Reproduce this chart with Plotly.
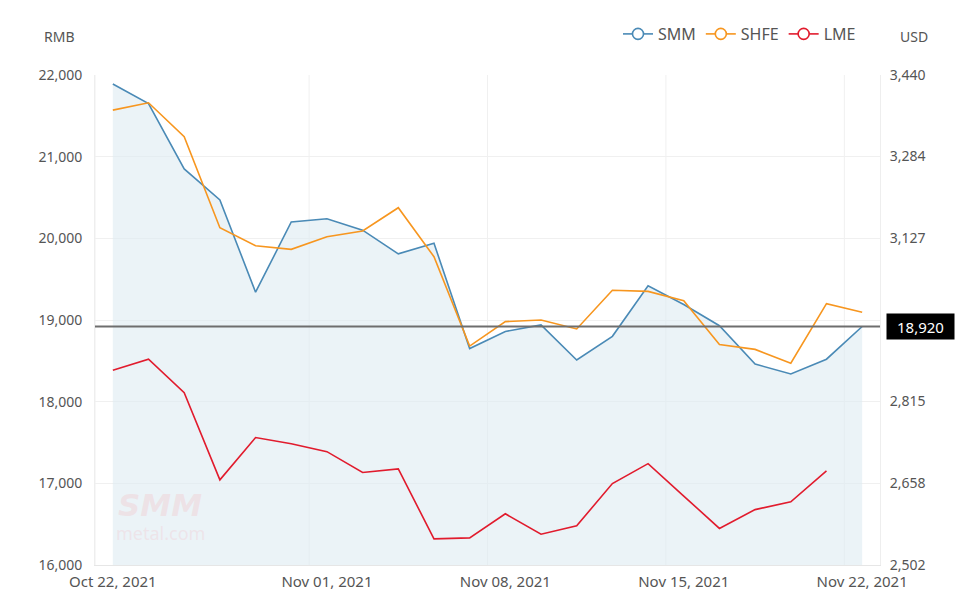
import plotly.graph_objects as go

dates = ["Oct 22, 2021", "Oct 25, 2021", "Oct 26, 2021", "Oct 27, 2021", "Oct 28, 2021",
         "Oct 29, 2021", "Nov 01, 2021", "Nov 02, 2021", "Nov 03, 2021", "Nov 04, 2021",
         "Nov 05, 2021", "Nov 08, 2021", "Nov 09, 2021", "Nov 10, 2021", "Nov 11, 2021",
         "Nov 12, 2021", "Nov 15, 2021", "Nov 16, 2021", "Nov 17, 2021", "Nov 18, 2021",
         "Nov 19, 2021", "Nov 22, 2021"]

smm = [21890, 21650, 20850, 20470, 19340, 20200, 20240, 20100, 19810, 19940,
       18650, 18860, 18940, 18510, 18800, 19420, 19190, 18930, 18460, 18340,
       18520, 18920]
shfe = [21570, 21660, 21245, 20130, 19910, 19865, 20020, 20090, 20375, 19775,
        18680, 18980, 19000, 18890, 19365, 19350, 19235, 18700, 18640, 18470,
        19200, 19095]
lme = [2875, 2896, 2832, 2665, 2746, 2734, 2719, 2679, 2686, 2552,
       2554, 2600, 2561, 2577, 2658, 2696, 2634, 2572, 2608, 2623,
       2682, None]

rmb_ticks = [16000, 17000, 18000, 19000, 20000, 21000, 22000]
usd_ticks = [2502, 2658, 2815, 2971, 3127, 3284, 3440]
x_label_idx = [0, 6, 11, 16, 21]
x_grid_pos = [-0.5, 5.5, 10.5, 15.5, 20.5]

C_SMM = "#4a8ab6"
C_SHFE = "#f7961f"
C_LME = "#e11b2d"
TXT = "#555555"
GRID = "#f0f0f0"
FONT = "Noto Sans"

L, R, T, B = 95, 97, 75, 31
PW, PH = 977 - L - R, 596 - T - B


def px(xp):
    return (xp - L) / PW


def py(yp):
    return 1 + (T - yp) / PH


x = list(range(len(dates)))

fig = go.Figure()

fig.add_trace(go.Scatter(x=x, y=smm, mode="lines", line=dict(color=C_SMM, width=1.6),
                         fill="tozeroy", fillcolor="rgba(222,235,241,0.6)",
                         showlegend=False, hoverinfo="skip"))
fig.add_trace(go.Scatter(x=x, y=shfe, mode="lines", line=dict(color=C_SHFE, width=1.6),
                         showlegend=False, hoverinfo="skip"))
fig.add_trace(go.Scatter(x=x, y=lme, mode="lines", line=dict(color=C_LME, width=1.6),
                         yaxis="y2", showlegend=False, hoverinfo="skip"))

for name, col in [("SMM", C_SMM), ("SHFE", C_SHFE), ("LME", C_LME)]:
    fig.add_trace(go.Scatter(x=[None], y=[None], mode="lines+markers", name=name,
                             line=dict(color=col, width=1.6),
                             marker=dict(symbol="circle", size=11, color="white",
                                         line=dict(color=col, width=1.6))))

shapes = []
for gx in x_grid_pos:
    shapes.append(dict(type="line", xref="x", yref="paper", x0=gx, x1=gx, y0=0, y1=1,
                       line=dict(color=GRID, width=1), layer="below"))
shapes.append(dict(type="line", xref="paper", yref="y", x0=0, x1=1, y0=smm[-1], y1=smm[-1],
                   line=dict(color="#6e6e6e", width=2)))

annotations = [
    dict(x=1, xref="paper", y=smm[-1], yref="y", xanchor="left", yanchor="middle", xshift=6,
         text=f"{smm[-1]:,}", showarrow=False, bgcolor="black", borderpad=3,
         width=61, height=19, align="center",
         font=dict(color="white", size=15, family=FONT)),
    dict(x=px(59), xref="paper", y=py(37), yref="paper", xanchor="center", yanchor="middle",
         text="RMB", showarrow=False, font=dict(color=TXT, size=14, family=FONT)),
    dict(x=px(914), xref="paper", y=py(37), yref="paper", xanchor="center", yanchor="middle",
         text="USD", showarrow=False, font=dict(color=TXT, size=14, family=FONT)),
    dict(text="<b><i>SMM</i></b>", x=px(160), y=py(505), xref="paper", yref="paper",
         xanchor="center", yanchor="middle", showarrow=False,
         font=dict(color="rgba(240,205,210,0.45)", size=31, family="DejaVu Sans")),
    dict(text="metal.com", x=px(160), y=py(533), xref="paper", yref="paper",
         xanchor="center", yanchor="middle", showarrow=False,
         font=dict(color="rgba(240,210,215,0.45)", size=18, family=FONT)),
]

fig.update_layout(
    width=977, height=596,
    margin=dict(l=L, r=R, t=T, b=B, autoexpand=False),
    paper_bgcolor="white", plot_bgcolor="white",
    font=dict(family=FONT, size=14, color=TXT),
    xaxis=dict(range=[-0.5, 21.5], tickmode="array", tickvals=x_label_idx,
               ticktext=[dates[i] for i in x_label_idx], showgrid=False, zeroline=False,
               showline=True, linecolor="#e6e6e6", ticks="", ticklabelstandoff=3,
               automargin=False, tickfont=dict(color=TXT, size=15)),
    yaxis=dict(range=[16000, 22000], tickmode="array", tickvals=rmb_ticks,
               ticktext=[f"{v:,}" for v in rmb_ticks], showgrid=True, gridcolor=GRID,
               zeroline=False, showline=True, linecolor="#eeeeee", ticks="",
               automargin=False, ticklabelstandoff=9, tickfont=dict(color=TXT, size=14)),
    yaxis2=dict(range=[2502, 3440], overlaying="y", side="right", tickmode="array",
                tickvals=usd_ticks, ticktext=[f"{v:,}" for v in usd_ticks], showgrid=False,
                zeroline=False, showline=True, linecolor="#eeeeee", ticks="",
                automargin=False, ticklabelstandoff=6, tickfont=dict(color=TXT, size=14)),
    legend=dict(orientation="h", x=px(618), y=py(34),
                xanchor="left", yanchor="middle", font=dict(color=TXT, size=16),
                bgcolor="rgba(0,0,0,0)", itemwidth=30),
    shapes=shapes,
    annotations=annotations,
    hovermode=False,
)

fig.write_html("out.html")
